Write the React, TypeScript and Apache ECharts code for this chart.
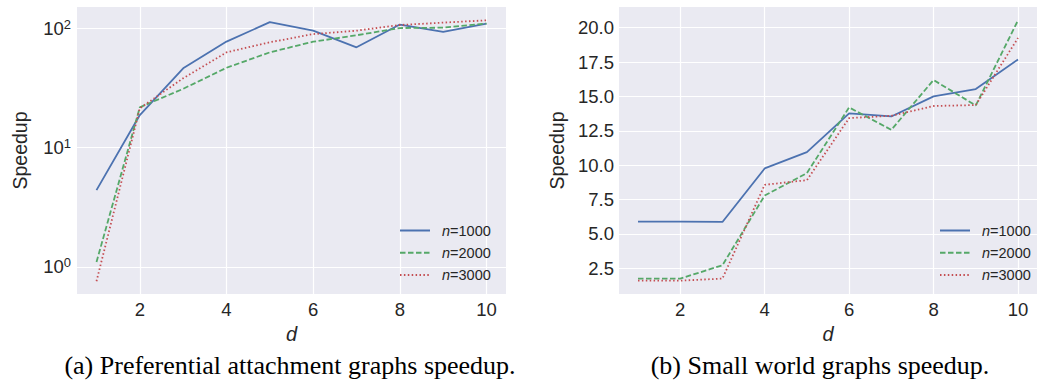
import React, { useEffect, useRef } from 'react';
import * as echarts from 'echarts';

const dValues = [1, 2, 3, 4, 5, 6, 7, 8, 9, 10];
const seriesNames = ['n=1000', 'n=2000', 'n=3000'];
const paN1000 = [4.4, 18.7, 46, 77, 112, 95, 69, 107, 93, 109];
const paN2000 = [1.1, 21.7, 31, 46.5, 62.6, 76.8, 87, 100, 100.7, 109];
const paN3000 = [0.76, 21.3, 38, 62.6, 76, 89, 95, 106, 111, 116];
const swN1000 = [5.9, 5.9, 5.87, 9.76, 10.95, 13.76, 13.54, 15.0, 15.53, 17.69];
const swN2000 = [1.75, 1.75, 2.72, 7.79, 9.42, 14.2, 12.57, 16.19, 14.34, 20.53];
const swN3000 = [1.6, 1.6, 1.75, 8.57, 8.91, 13.42, 13.59, 14.3, 14.37, 19.25];
const xTicks = [2, 4, 6, 8, 10];
const paYTicks = [1, 10, 100];
const swYTicks = [2.5, 5, 7.5, 10, 12.5, 15, 17.5, 20];
const captions = ['(a) Preferential attachment graphs speedup.', '(b) Small world graphs speedup.'];

const COLORS = ['#4C72B0', '#55A868', '#C44E52'];
const DASHES: any[] = ['solid', [5.5, 2.5], [1.5, 2.4]];
const TXT = '#262626';
const FONT = '"Liberation Sans", Arial, sans-serif';

export default function App() {
  const ref = useRef<HTMLDivElement>(null);
  useEffect(() => {
    if (!ref.current) return;
    const chart = echarts.init(ref.current, null, { renderer: 'svg' });
    const mk = (arr: number[], idx: number, axis: number) => ({
      name: seriesNames[idx],
      type: 'line',
      xAxisIndex: axis,
      yAxisIndex: axis,
      symbol: 'none',
      data: dValues.map((d, i) => [d, arr[i]]),
      lineStyle: { color: COLORS[idx], width: 1.8, type: DASHES[idx] },
      itemStyle: { color: COLORS[idx] },
    });
    const xAxisBase = (gridIndex: number) => ({
      type: 'value',
      gridIndex,
      min: 0.55,
      max: 10.45,
      name: 'd',
      nameLocation: 'middle',
      nameGap: 27,
      nameTextStyle: { fontStyle: 'italic', fontSize: 20, color: TXT, fontFamily: FONT },
      axisLine: { show: false },
      axisTick: { show: false, customValues: xTicks },
      axisLabel: { customValues: xTicks, fontSize: 18.5, color: TXT, fontFamily: FONT, margin: 6 },
      splitLine: { show: true, lineStyle: { color: '#ffffff', width: 1.2 } },
    });
    const legendBase = (left: number) => ({
      data: seriesNames,
      orient: 'vertical',
      left,
      top: 223,
      padding: 0,
      itemWidth: 30,
      itemHeight: 14,
      itemGap: 7.3,
      itemStyle: { color: 'transparent', borderWidth: 0 },
      formatter: (name: string) => `{i|n}=${name.split('=')[1]}`,
      textStyle: {
        fontSize: 14.5,
        color: TXT,
        fontFamily: FONT,
        padding: [0, 0, 0, 7],
        rich: { i: { fontStyle: 'italic', fontSize: 14.5, color: TXT, fontFamily: FONT } },
      },
    });
    chart.setOption({
      animation: false,
      backgroundColor: '#ffffff',
      grid: [
        { left: 77, top: 7, width: 429, height: 287, show: true, backgroundColor: '#EAEAF2', borderWidth: 0 },
        { left: 619, top: 7, width: 426.7, height: 287, show: true, backgroundColor: '#EAEAF2', borderWidth: 0 },
      ],
      xAxis: [xAxisBase(0), xAxisBase(1)],
      yAxis: [
        {
          type: 'log',
          logBase: 10,
          gridIndex: 0,
          min: 0.594,
          max: 150,
          name: 'Speedup',
          nameLocation: 'middle',
          nameGap: 47,
          nameTextStyle: { fontSize: 19.5, color: TXT, fontFamily: FONT },
          axisLine: { show: false },
          axisTick: { show: false, customValues: paYTicks },
          minorTick: { show: false },
          axisLabel: {
            customValues: paYTicks,
            margin: 6,
            formatter: (v: number) => `{b|10}{s|${Math.round(Math.log10(v))}}`,
            rich: {
              b: { fontSize: 18.5, color: TXT, fontFamily: FONT },
              s: { fontSize: 13, color: TXT, fontFamily: FONT, verticalAlign: 'top', padding: [0, 0, 8, 0] },
            },
          },
          splitLine: { show: true, lineStyle: { color: '#ffffff', width: 1.2 } },
        },
        {
          type: 'value',
          gridIndex: 1,
          min: 0.63,
          max: 21.5,
          name: 'Speedup',
          nameLocation: 'middle',
          nameGap: 52,
          nameTextStyle: { fontSize: 19.5, color: TXT, fontFamily: FONT },
          axisLine: { show: false },
          axisTick: { show: false, customValues: swYTicks },
          axisLabel: {
            customValues: swYTicks,
            margin: 5,
            fontSize: 18.5,
            color: TXT,
            fontFamily: FONT,
            formatter: (v: number) => v.toFixed(1),
          },
          splitLine: { show: true, lineStyle: { color: '#ffffff', width: 1.2 } },
        },
      ],
      legend: [legendBase(399), legendBase(939)],
      series: [
        mk(paN1000, 0, 0),
        mk(paN2000, 1, 0),
        mk(paN3000, 2, 0),
        mk(swN1000, 0, 1),
        mk(swN2000, 1, 1),
        mk(swN3000, 2, 1),
      ],
      graphic: [
        {
          type: 'text',
          x: 290,
          y: 365,
          style: { text: captions[0], font: '26px "Liberation Serif", "Times New Roman", serif', fill: '#000', textAlign: 'center', textVerticalAlign: 'middle' },
        },
        {
          type: 'text',
          x: 820,
          y: 365,
          style: { text: captions[1], font: '26px "Liberation Serif", "Times New Roman", serif', fill: '#000', textAlign: 'center', textVerticalAlign: 'middle' },
        },
      ],
    });
    return () => chart.dispose();
  }, []);
  return (
    <div
      ref={ref}
      style={{ position: 'fixed', left: 0, top: 0, width: 1037, height: 381, background: '#fff' }}
    />
  );
}
